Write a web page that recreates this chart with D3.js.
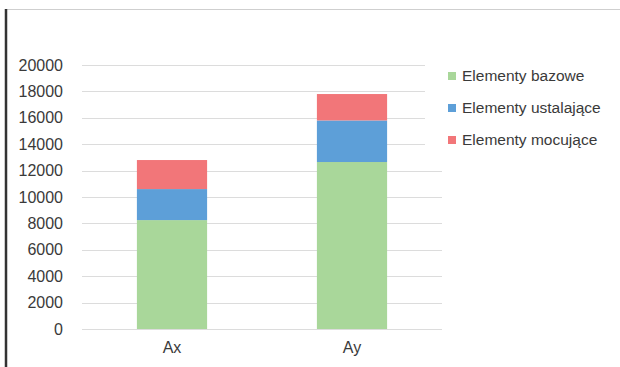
<!DOCTYPE html>
<html><head><meta charset="utf-8">
<script src="https://cdn.jsdelivr.net/npm/d3@7"></script>
<style>body{margin:0;background:#fff}svg{display:block}text{font-family:"Liberation Sans",Arial,sans-serif}</style>
</head><body>
<script>
const categories = ["Ax", "Ay"];
const seriesNames = ["Elementy bazowe", "Elementy ustalające", "Elementy mocujące"];
const bazowe = [8250, 12650];
const ustalajace = [2350, 3150];
const mocujace = [2200, 2000];
const yTicks = [0, 2000, 4000, 6000, 8000, 10000, 12000, 14000, 16000, 18000, 20000];
const colors = ["#a9d79a", "#5d9fd8", "#f27679"];

const W = 620, H = 367;
const svg = d3.select("body").append("svg").attr("width", W).attr("height", H);

// frame
svg.append("line").attr("x1", 7).attr("x2", W).attr("y1", 9.5).attr("y2", 9.5).attr("stroke", "#cfcfcf");
svg.append("line").attr("x1", 6).attr("x2", 6).attr("y1", 9).attr("y2", H).attr("stroke", "#333").attr("stroke-width", 2.5);

const x = d3.scaleBand().domain(categories).range([82, 442]).paddingInner(0.61).paddingOuter(0.305);
const y = d3.scaleLinear().domain([0, 20000]).range([329, 65]);

// gridlines
svg.append("g").selectAll("line").data(yTicks).join("line")
  .attr("x1", 82).attr("x2", 442)
  .attr("y1", d => Math.round(y(d)) + 0.5).attr("y2", d => Math.round(y(d)) + 0.5)
  .attr("stroke", "#dcdcdc");

// y axis labels
const yAxis = d3.axisLeft(y).tickValues(yTicks).tickSize(0).tickPadding(0).tickFormat(d3.format("d"));
const gy = svg.append("g").attr("transform", "translate(63,0)").call(yAxis);
gy.select(".domain").remove();
gy.selectAll("text").attr("font-size", 16).attr("fill", "#3a3a3a").attr("font-family", '"Liberation Sans",Arial,sans-serif');

// x axis labels
const xAxis = d3.axisBottom(x).tickSize(0).tickPadding(0);
const gx = svg.append("g").attr("transform", "translate(0,342)").call(xAxis);
gx.select(".domain").remove();
gx.selectAll("text").attr("font-size", 16).attr("fill", "#3a3a3a").attr("font-family", '"Liberation Sans",Arial,sans-serif');

// stacked bars
const rows = categories.map((c, i) => ({cat: c, s0: bazowe[i], s1: ustalajace[i], s2: mocujace[i]}));
const stack = d3.stack().keys(["s0", "s1", "s2"]);
const layers = stack(rows);
svg.append("g").selectAll("g").data(layers).join("g")
  .attr("fill", (d, i) => colors[i])
  .selectAll("rect").data(d => d).join("rect")
  .attr("x", d => x(d.data.cat))
  .attr("width", x.bandwidth())
  .attr("y", d => y(d[1]))
  .attr("height", d => y(d[0]) - y(d[1]));

// legend
svg.append("rect").attr("x", 425).attr("y", 55).attr("width", 188).attr("height", 104).attr("fill", "#fff");
const lg = svg.append("g").selectAll("g").data(seriesNames).join("g")
  .attr("transform", (d, i) => `translate(448,${76 + i * 32})`);
lg.append("rect").attr("x", 0).attr("y", -4).attr("width", 8).attr("height", 8).attr("fill", (d, i) => colors[i]);
lg.append("text").attr("x", 14).attr("y", 0).attr("dy", "0.35em").attr("font-size", 15.5).attr("fill", "#3a3a3a").text(d => d);
</script>
</body></html>
